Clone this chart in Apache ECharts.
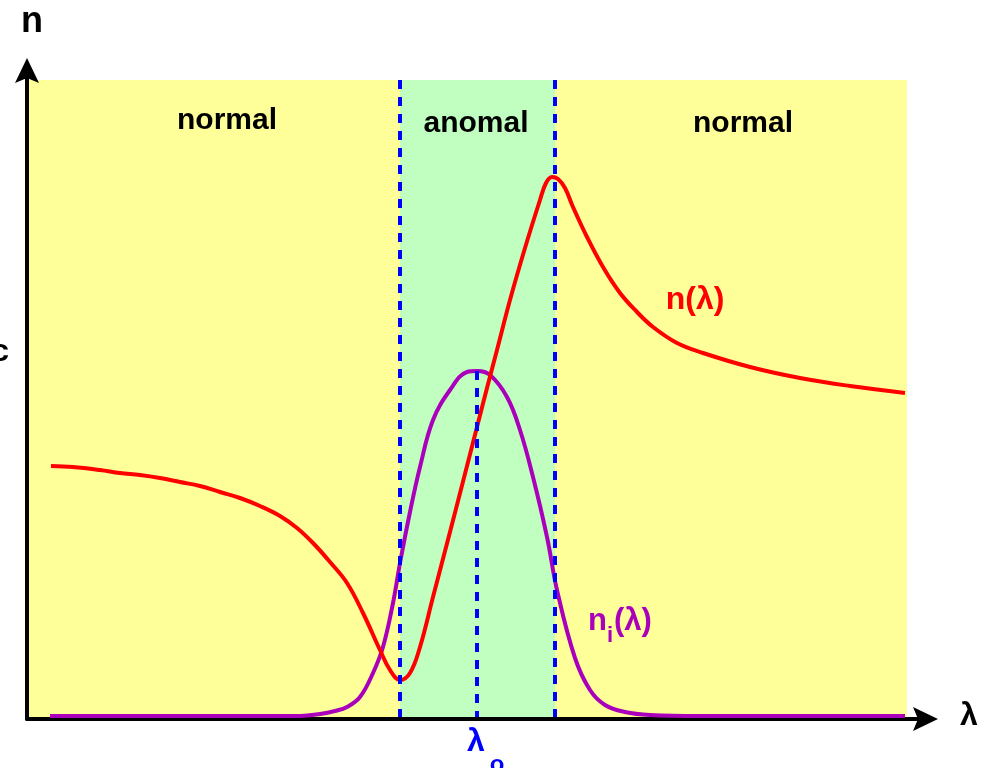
<!DOCTYPE html>
<html>
<head>
<meta charset="utf-8">
<script src="https://cdn.jsdelivr.net/npm/echarts@6/dist/echarts.min.js"></script>
<style>
  html, body { margin: 0; background: #fff; }
  #chart { width: 990px; height: 768px; }
</style>
</head>
<body>
<div id="chart"></div>
<script>
const nLambda = [51, 73, 100, 120, 140, 160, 180, 200, 220, 240, 260, 280, 297, 313, 330, 347, 363, 380, 390, 400,
  410, 420, 433, 450, 467, 477, 487, 497, 510, 525, 540, 546, 552, 558, 565, 573, 587, 603, 620, 637,
  653, 677, 703, 750, 800, 850, 905];
const nValues = [253, 252, 249, 246, 244, 241, 237, 233, 227, 221, 213, 203, 191, 176, 157, 136, 106, 69, 49, 39,
  46, 72, 122, 187, 253, 292, 331, 369, 419, 471, 519, 536, 542, 540, 531, 512, 482, 452, 426, 407,
  392, 376, 366, 352, 341, 333, 326];

// n_i(λ) — absorption peak
const niLambda = [50, 200, 300, 320, 335, 347, 360, 373, 383, 393, 400, 410, 420, 433, 450, 467, 477, 490, 507, 520,
  533, 547, 557, 575, 590, 605, 625, 650, 700, 905];
const niValues = [3, 3, 3, 5, 8, 12, 22, 46, 72, 116, 156, 207, 252, 299, 329, 347, 348, 344, 322, 289,
  242, 182, 129, 61, 29, 14, 7, 4, 3, 3];

// normal | anomal | normal
const regionEdges = [29, 400, 555, 907];
const regionTop = 639;
const lambda0 = 477;
const lambda0Top = 348;

const font = '"Liberation Sans", Arial, sans-serif';

function zip(xs, ys) {
  return xs.map((x, i) => [x, ys[i]]);
}

const chart = echarts.init(document.getElementById('chart'));

const plainAxis = {
  type: 'value',
  axisLine: { lineStyle: { color: '#000', width: 4 } },
  axisTick: { show: false },
  axisLabel: { show: false },
  splitLine: { show: false },
};

function text(x, y, str, size, color, align) {
  return {
    type: 'text', x, y, z: 10,
    style: { text: str, font: `bold ${size}px ${font}`, fill: color, align: align || 'center', verticalAlign: 'middle' },
  };
}

chart.setOption({
  animation: false,
  grid: { left: 27, right: 60, top: 76, bottom: 49 },
  xAxis: { ...plainAxis, min: 27, max: 930 },
  yAxis: { ...plainAxis, min: 0, max: 643 },
  series: [
    {
      name: 'bg',
      type: 'line',
      data: [],
      silent: true,
      z: 1,
      markArea: {
        silent: true,
        label: { show: false },
        data: [
          [{ xAxis: regionEdges[0], yAxis: 2, itemStyle: { color: '#FFFF99', opacity: 1 } },
            { xAxis: regionEdges[3], yAxis: regionTop }],
          [{ xAxis: regionEdges[1], yAxis: 2, itemStyle: { color: '#C0FFC0', opacity: 1 } },
            { xAxis: regionEdges[2], yAxis: regionTop }],
        ],
      },
      markLine: {
        silent: true,
        symbol: ['none', 'none'],
        label: { show: false },
        lineStyle: { color: '#0000FF', width: 4, type: [9, 8], opacity: 1 },
        data: [
          [{ coord: [regionEdges[1], regionTop] }, { coord: [regionEdges[1], 2] }],
          [{ coord: [regionEdges[2], regionTop] }, { coord: [regionEdges[2], 2] }],
          [{ coord: [lambda0, lambda0Top] }, { coord: [lambda0, 2] }],
        ],
      },
    },
    {
      name: 'ni',
      type: 'line',
      data: zip(niLambda, niValues),
      symbol: 'none',
      smooth: 0.4,
      z: 3,
      lineStyle: { color: '#AA00BB', width: 4 },
    },
    {
      name: 'n',
      type: 'line',
      data: zip(nLambda, nValues),
      symbol: 'none',
      smooth: 0.4,
      z: 4,
      lineStyle: { color: '#FF0000', width: 4 },
    },
  ],
});

// arrow heads at the ends of both axes
const xEnd = chart.convertToPixel({ gridIndex: 0 }, [930, 0]);
const yEnd = chart.convertToPixel({ gridIndex: 0 }, [27, 643]);
const len = 25, half = 12, notch = 5;

chart.setOption({
  graphic: [
    {
      type: 'polygon', z: 10,
      shape: { points: [[yEnd[0], yEnd[1] - 18], [yEnd[0] - half, yEnd[1] - 18 + len], [yEnd[0], yEnd[1] - 18 + len - notch], [yEnd[0] + half, yEnd[1] - 18 + len]] },
      style: { fill: '#000' },
    },
    {
      type: 'polygon', z: 10,
      shape: { points: [[xEnd[0] + 8, xEnd[1]], [xEnd[0] + 8 - len, xEnd[1] - half], [xEnd[0] + 8 - len + notch, xEnd[1]], [xEnd[0] + 8 - len, xEnd[1] + half]] },
      style: { fill: '#000' },
    },
    text(32, 22, 'n', 36, '#000'),
    text(9, 352, 'c', 32, '#000', 'right'),
    text(969, 716, 'λ', 32, '#000'),
    text(476, 742, 'λ', 32, '#0000FF'),
    text(497, 765, 'o', 24, '#0000FF'),
    text(227, 121, 'normal', 30, '#000'),
    text(476, 124, 'anomal', 30, '#000'),
    text(743, 124, 'normal', 30, '#000'),
    text(695, 300, 'n(λ)', 32, '#FF0000'),
    text(588, 621, 'n', 31, '#AA00BB', 'left'),
    text(607, 636, 'i', 22, '#AA00BB', 'left'),
    text(614, 621, '(λ)', 31, '#AA00BB', 'left'),
  ],
});
</script>
</body>
</html>
